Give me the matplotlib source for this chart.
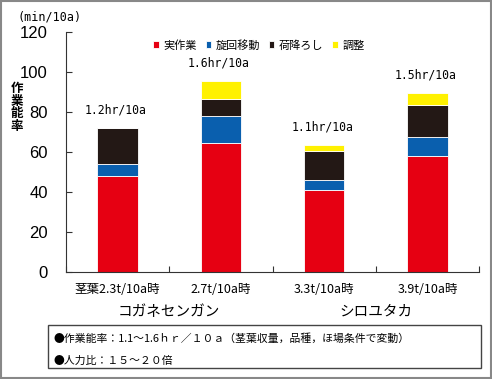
import numpy as np
import matplotlib
matplotlib.use('Agg')
import matplotlib.pyplot as plt
from matplotlib.patches import Rectangle

plt.rcParams['font.family'] = ['Noto Sans CJK JP', 'DejaVu Sans']

# data (min/10a)
categories = ['茎葉2.3t/10a時', '2.7t/10a時', '3.3t/10a時', '3.9t/10a時']
groups = ['コガネセンガン', 'シロユタカ']
series = ['実作業', '旋回移動', '荷降ろし', '調整']
jitsu = [48, 64.5, 41, 58]
senkai = [6, 13.5, 5, 9.5]
nioroshi = [18, 8.5, 14.5, 16]
chosei = [0, 9, 3, 6]
rate_labels = ['1.2hr/10a', '1.6hr/10a', '1.1hr/10a', '1.5hr/10a']
colors = ['#e60012', '#0a5fae', '#231815', '#fff100']

fig = plt.figure(figsize=(4.92, 3.79), dpi=100)
ax = fig.add_axes([0.134, 0.282, 0.840, 0.633])

x = np.arange(len(categories))
bottom = np.zeros(len(categories))
for name, vals, c in zip(series, [jitsu, senkai, nioroshi, chosei], colors):
    ax.bar(x, vals, 0.39, bottom=bottom, color=c, edgecolor='white',
           linewidth=0.6, label=name)
    bottom += np.array(vals)

for xi, tot, lab in zip(x, bottom, rate_labels):
    ax.text(xi - 0.02, tot + 9, lab, ha='center', va='center',
            fontsize=8.3, family='DejaVu Sans Mono')

ax.set_xlim(-0.5, 3.5)
ax.set_ylim(0, 120)
ax.spines['top'].set_visible(False)
ax.spines['right'].set_visible(False)
ax.spines['left'].set_color('#333333')
ax.spines['bottom'].set_color('#333333')

ax.set_yticks(np.arange(0, 121, 20))
ax.tick_params(axis='y', direction='in', length=4, pad=13, labelsize=12,
               color='#333333')
for t in ax.get_yticklabels():
    t.set_family('Liberation Sans')

ax.set_xticks(np.arange(-0.5, 3.6, 1))
ax.set_xticklabels([])
ax.set_xticks(x, minor=True)
ax.set_xticklabels(categories, minor=True, fontsize=9)
ax.tick_params(axis='x', which='major', direction='in', length=4, color='#333333')
ax.tick_params(axis='x', which='minor', length=0, pad=8)

for gx, g in zip([0.5, 2.5], groups):
    ax.text(gx, -0.165, g, transform=ax.get_xaxis_transform(),
            ha='center', va='center', fontsize=10.5)

ax.legend(ncol=4, loc='center', bbox_to_anchor=(0.467, 0.946), frameon=False,
          fontsize=8, handlelength=0.5, handleheight=0.5, handletextpad=0.4,
          columnspacing=0.8, borderpad=0)

fig.text(0.035, 0.955, '(min/10a)', fontsize=8.5, family='DejaVu Sans Mono',
         va='center', ha='left')
fig.text(0.034, 0.716, '作\n業\n能\n率', fontsize=9, fontweight='bold',
         va='center', ha='center', linespacing=0.95)

# note box
fig.add_artist(Rectangle((0.0976, 0.029), 0.880, 0.113, transform=fig.transFigure,
                         fill=False, edgecolor='#444444', linewidth=1))
fig.text(0.108, 0.108, '●作業能率：1.1～1.6ｈｒ／１０ａ（茎葉収量，品種，ほ場条件で変動）',
         fontsize=7.8, va='center')
fig.text(0.108, 0.047, '●人力比：１５～２０倍', fontsize=7.8, va='center')

fig.add_artist(Rectangle((0.002, 0.003), 0.995, 0.994, transform=fig.transFigure,
                         fill=False, edgecolor='#888888', linewidth=1.5))

fig.savefig('out.png', dpi=100)
